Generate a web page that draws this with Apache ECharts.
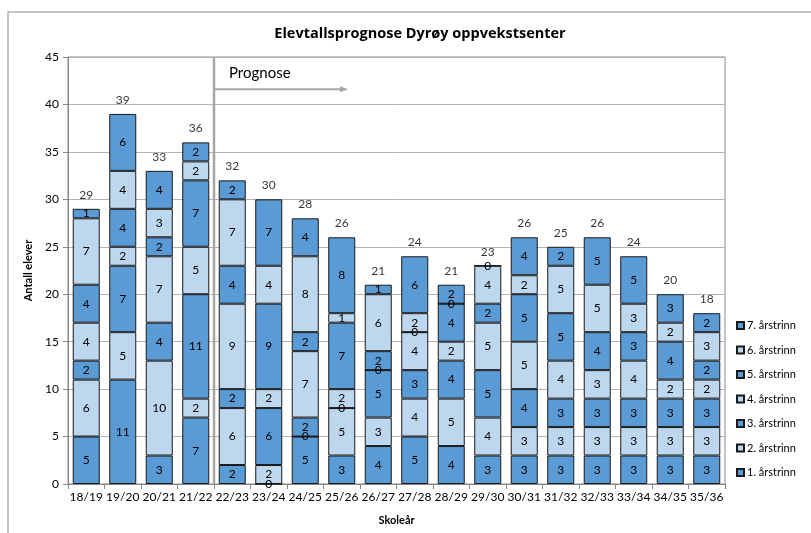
<!DOCTYPE html>
<html>
<head>
<meta charset="utf-8">
<script src="https://cdn.jsdelivr.net/npm/echarts@6/dist/echarts.min.js"></script>
<style>
  html, body { margin: 0; padding: 0; background: #fff; }
  #chart { width: 811px; height: 533px; }
</style>
</head>
<body>
<div id="chart"></div>
<script>
// skoleår på x-aksen
const years = ['18/19', '19/20', '20/21', '21/22', '22/23', '23/24', '24/25', '25/26', '26/27',
  '27/28', '28/29', '29/30', '30/31', '31/32', '32/33', '33/34', '34/35', '35/36'];

// elever per årstrinn (1. til 7.)
const trinn1 = [5, 11, 3, 7, 2, 0, 5, 3, 4, 5, 4, 3, 3, 3, 3, 3, 3, 3];
const trinn2 = [6, 5, 10, 2, 6, 2, 0, 5, 3, 4, 5, 4, 3, 3, 3, 3, 3, 3];
const trinn3 = [2, 7, 4, 11, 2, 6, 2, 0, 5, 3, 4, 5, 4, 3, 3, 3, 3, 3];
const trinn4 = [4, 2, 7, 5, 9, 2, 7, 2, 0, 4, 2, 5, 5, 4, 3, 4, 2, 2];
const trinn5 = [4, 4, 2, 7, 4, 9, 2, 7, 2, 0, 4, 2, 5, 5, 4, 3, 4, 2];
const trinn6 = [7, 4, 3, 2, 7, 4, 8, 1, 6, 2, 0, 4, 2, 5, 5, 3, 2, 3];
const trinn7 = [1, 6, 4, 2, 2, 7, 4, 8, 1, 6, 2, 0, 4, 2, 5, 5, 3, 2];

// totalsum over søylene
const totals = [29, 39, 33, 36, 32, 30, 28, 26, 21, 24, 21, 23, 26, 25, 26, 24, 20, 18];

const trinnNames = ['1. årstrinn', '2. årstrinn', '3. årstrinn', '4. årstrinn',
  '5. årstrinn', '6. årstrinn', '7. årstrinn'];
const trinnData = [trinn1, trinn2, trinn3, trinn4, trinn5, trinn6, trinn7];

const DARK = '#5b9bd5';
const LIGHT = '#bdd7ee';
const FONT = 'Lato, "Liberation Sans", sans-serif';

const chart = echarts.init(document.getElementById('chart'));

const series = trinnData.map(function (d, i) {
  return {
    name: trinnNames[i],
    type: 'bar',
    stack: 'elever',
    barCategoryGap: '26%',
    data: d,
    itemStyle: { color: i % 2 === 0 ? DARK : LIGHT, borderColor: '#1a1a1a', borderWidth: 1 },
    label: { show: true, position: 'inside', color: '#000', fontSize: 12, fontFamily: FONT },
    emphasis: { disabled: true }
  };
});

// usynlig serie for totaler
series.push({
  name: 'sum',
  type: 'scatter',
  data: totals,
  symbolSize: 0,
  silent: true,
  label: { show: true, position: 'top', distance: 8, color: '#000', fontSize: 12, fontFamily: FONT }
});

chart.setOption({
  animation: false,
  textStyle: { fontFamily: FONT },
  title: {
    text: 'Elevtallsprognose Dyrøy oppvekstsenter',
    left: 415, top: 21, textAlign: 'center',
    textStyle: { fontSize: 14.5, fontWeight: 'bold', color: '#000', fontFamily: '"Open Sans", sans-serif' }
  },
  legend: {
    orient: 'vertical',
    left: 731, top: 315,
    itemWidth: 7, itemHeight: 7, itemGap: 13.5,
    icon: 'rect',
    data: trinnNames.slice().reverse(),
    textStyle: { fontSize: 11, color: '#000', fontFamily: FONT, padding: [0, 0, 0, -2] }
  },
  grid: {
    left: 68, right: 86, top: 57, bottom: 49,
    show: true, borderColor: '#8c8c8c', borderWidth: 1
  },
  xAxis: {
    type: 'category',
    data: years,
    name: 'Skoleår',
    nameLocation: 'middle',
    nameGap: 31,
    nameTextStyle: { fontWeight: 'bold', fontSize: 11, color: '#000' },
    axisLine: { lineStyle: { color: '#868686' } },
    axisTick: { show: true, length: 5, lineStyle: { color: '#868686' } },
    axisLabel: { color: '#000', fontSize: 12, margin: 7, interval: 0 }
  },
  yAxis: {
    type: 'value',
    min: 0, max: 45, interval: 5,
    name: 'Antall elever',
    nameLocation: 'middle',
    nameGap: 31,
    nameTextStyle: { fontWeight: 'bold', fontSize: 11, color: '#000' },
    axisLine: { show: true, lineStyle: { color: '#868686' } },
    axisTick: { show: true, length: 5, lineStyle: { color: '#868686' } },
    axisLabel: { color: '#000', fontSize: 12, margin: 9 },
    splitLine: { lineStyle: { color: '#b3b3b3' } }
  },
  series: series
});

// prognose-markering mellom 21/22 og 22/23
const p3 = chart.convertToPixel({ xAxisIndex: 0 }, 3);
const p4 = chart.convertToPixel({ xAxisIndex: 0 }, 4);
const xLine = Math.round((p3 + p4) / 2);
const yTop = chart.convertToPixel({ yAxisIndex: 0 }, 45);
const yBot = chart.convertToPixel({ yAxisIndex: 0 }, 0);
const yArrow = chart.convertToPixel({ yAxisIndex: 0 }, 41.6);

chart.setOption({
  graphic: [
    { type: 'rect', shape: { x: 8, y: 12, width: 900, height: 600 },
      style: { fill: 'none', stroke: '#b3b3b3', lineWidth: 1.5 }, z: -10, silent: true },
    { type: 'line', shape: { x1: xLine, y1: yTop, x2: xLine, y2: yBot },
      style: { stroke: '#a6a6a6', lineWidth: 2.5 }, z: 100, silent: true },
    { type: 'line', shape: { x1: xLine, y1: yArrow, x2: xLine + 128, y2: yArrow },
      style: { stroke: '#a6a6a6', lineWidth: 2 }, z: 100, silent: true },
    { type: 'polygon', shape: { points: [[xLine + 134, yArrow], [xLine + 126, yArrow - 3], [xLine + 126, yArrow + 3]] },
      style: { fill: '#a6a6a6' }, z: 100, silent: true },
    { type: 'text', x: xLine + 15, y: yArrow - 24,
      style: { text: 'Prognose', font: '15px ' + FONT, fill: '#000' }, z: 100, silent: true }
  ]
});
</script>
</body>
</html>
